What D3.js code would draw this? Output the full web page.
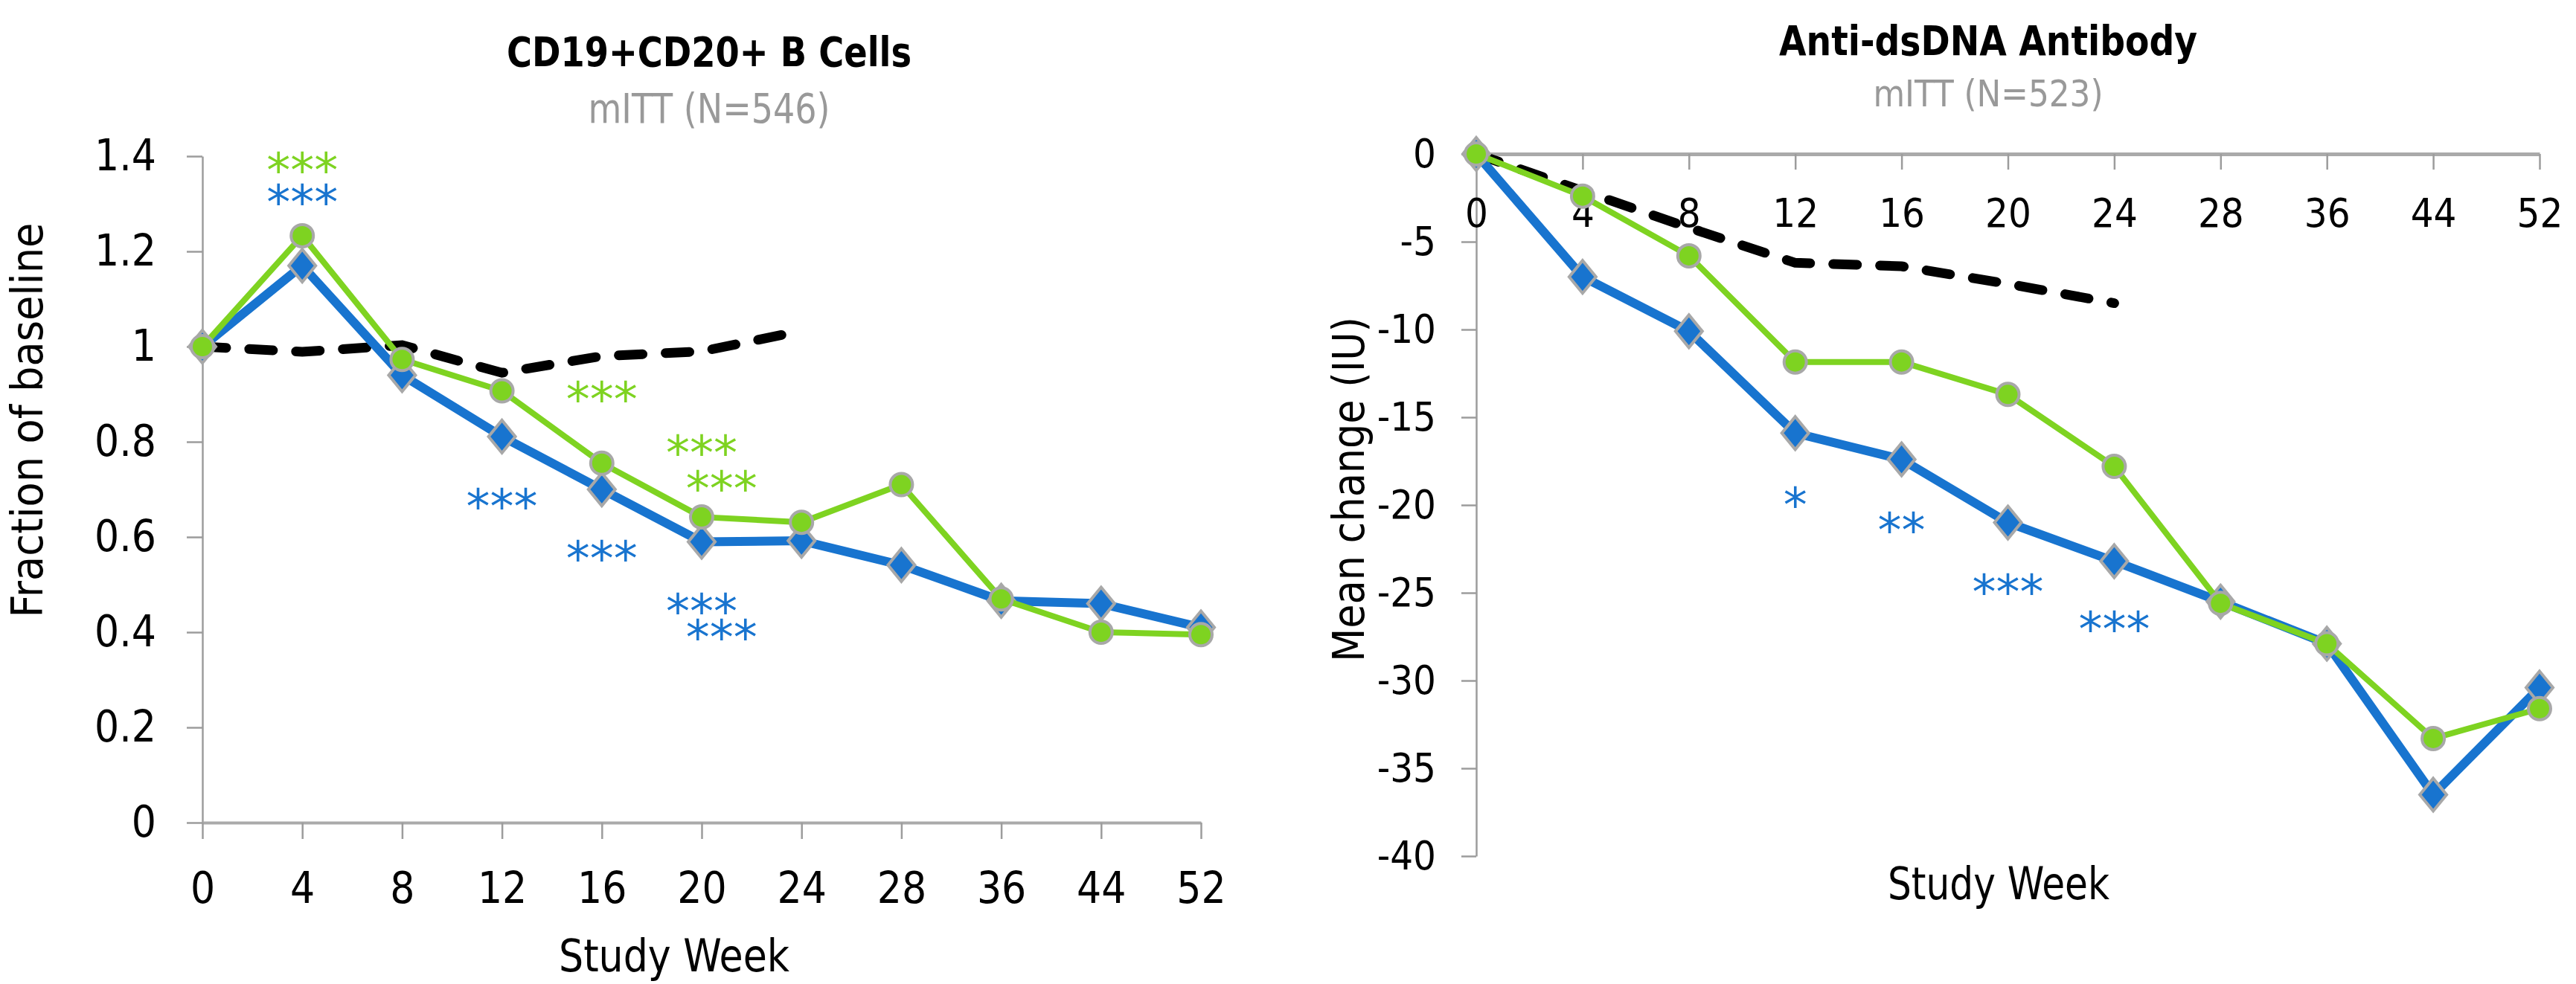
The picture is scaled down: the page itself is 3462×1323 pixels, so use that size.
<!DOCTYPE html>
<html>
<head>
<meta charset="utf-8">
<script src="https://cdn.jsdelivr.net/npm/d3@7.9.0/dist/d3.min.js"></script>
<style>
  body { margin: 0; background: #fff; }
  svg { display: block; }
  .narrow { font-family: "Liberation Sans Narrow", "DejaVu Sans Condensed", "Liberation Sans", sans-serif; }
  .wide { font-family: "DejaVu Sans", Verdana, sans-serif; }
</style>
</head>
<body>
<svg id="chart" width="3462" height="1323"></svg>
<script>
// study weeks shared by both panels
const weeks = ['0', '4', '8', '12', '16', '20', '24', '28', '36', '44', '52'];

// CD19+CD20+ B cells, fraction of baseline
const cellsBlue = [1.0, 1.17, 0.94, 0.811, 0.70, 0.59, 0.592, 0.541, 0.466, 0.46, 0.41];
const cellsGreen = [1.0, 1.233, 0.973, 0.907, 0.755, 0.642, 0.631, 0.71, 0.47, 0.40, 0.395];
const cellsPlacebo = [1.0, 0.989, 1.003, 0.945, 0.98, 0.99, 1.033];
const cellsTicks = [0, 0.2, 0.4, 0.6, 0.8, 1, 1.2, 1.4];

// Anti-dsDNA antibody, mean change (IU)
const dnaBlue = [0, -7.0, -10.1, -15.9, -17.4, -21.0, -23.2, -25.5, -27.9, -36.5, -30.4];
const dnaGreen = [0, -2.4, -5.8, -11.85, -11.85, -13.7, -17.8, -25.6, -27.9, -33.3, -31.6];
const dnaPlacebo = [0, -2.1, -4.2, -6.2, -6.4, -7.4, -8.5];
const dnaTicks = [0, -5, -10, -15, -20, -25, -30, -35, -40];

// significance marks: week, shift (in steps), value, label, series
const cellsStars = [
  { week: '4', shift: 0, value: 1.392, label: '***', series: 'green' },
  { week: '4', shift: 0, value: 1.325, label: '***', series: 'blue' },
  { week: '16', shift: 0, value: 0.911, label: '***', series: 'green' },
  { week: '20', shift: 0, value: 0.798, label: '***', series: 'green' },
  { week: '20', shift: 0.2, value: 0.723, label: '***', series: 'green' },
  { week: '12', shift: 0, value: 0.686, label: '***', series: 'blue' },
  { week: '16', shift: 0, value: 0.577, label: '***', series: 'blue' },
  { week: '20', shift: 0, value: 0.466, label: '***', series: 'blue' },
  { week: '20', shift: 0.2, value: 0.411, label: '***', series: 'blue' },
];
const dnaStars = [
  { week: '12', shift: 0, value: -19.4, label: '*', series: 'blue' },
  { week: '16', shift: 0, value: -20.85, label: '**', series: 'blue' },
  { week: '20', shift: 0, value: -24.36, label: '***', series: 'blue' },
  { week: '24', shift: 0, value: -26.5, label: '***', series: 'blue' },
];

const colors = { blue: '#1874cf', green: '#7ed321', placebo: '#000', marker: '#a8a8a8', axis: '#9c9c9c' };

const svg = d3.select('#chart');

function diamond(w, h) {
  const p = d3.path();
  p.moveTo(0, -h / 2);
  p.lineTo(w / 2, 0);
  p.lineTo(0, h / 2);
  p.lineTo(-w / 2, 0);
  p.closePath();
  return p.toString();
}

function drawPanel(cfg) {
  const g = svg.append('g');
  const x = d3.scalePoint().domain(weeks).range(cfg.xRange);
  const y = d3.scaleLinear().domain(cfg.yDomain).range(cfg.yRange);

  // y axis
  const yAxis = g.append('g')
    .attr('transform', `translate(${cfg.xRange[0]},0)`)
    .call(d3.axisLeft(y).tickValues(cfg.yTicks).tickSize(cfg.yTickSize).tickSizeOuter(0)
      .tickPadding(cfg.yPad).tickFormat(d => String(+d.toFixed(1))));
  yAxis.select('.domain').attr('stroke', colors.axis).attr('stroke-width', 2.5);
  yAxis.selectAll('.tick line').attr('stroke', colors.axis).attr('stroke-width', 2.5);
  yAxis.selectAll('.tick text').attr('class', 'narrow').attr('font-size', cfg.tickFont).attr('fill', '#000');

  // x axis
  const xAxis = g.append('g')
    .attr('transform', `translate(0,${cfg.xAxisY})`)
    .call(d3.axisBottom(x).tickSize(cfg.xTickSize).tickSizeOuter(0).tickPadding(cfg.xPad));
  xAxis.select('.domain').attr('stroke', '#aaa').attr('stroke-width', cfg.xAxisWidth);
  xAxis.selectAll('.tick line').attr('stroke', colors.axis).attr('stroke-width', 2.5);
  xAxis.selectAll('.tick text').attr('class', 'narrow').attr('font-size', cfg.tickFont).attr('fill', '#000');

  const line = d3.line().x((d, i) => x(weeks[i])).y(d => y(d));

  // placebo dashed line
  g.append('path')
    .datum(cfg.placebo)
    .attr('d', line)
    .attr('fill', 'none')
    .attr('stroke', colors.placebo)
    .attr('stroke-width', 13)
    .attr('stroke-linecap', 'round')
    .attr('stroke-dasharray', '32 31');

  // blue series
  g.append('path')
    .datum(cfg.blue)
    .attr('d', line)
    .attr('fill', 'none')
    .attr('stroke', colors.blue)
    .attr('stroke-width', 12)
    .attr('stroke-linejoin', 'round');
  g.append('g').selectAll('path')
    .data(cfg.blue)
    .join('path')
    .attr('transform', (d, i) => `translate(${x(weeks[i])},${y(d)})`)
    .attr('d', diamond(36, 44))
    .attr('fill', colors.blue)
    .attr('stroke', colors.marker)
    .attr('stroke-width', 4);

  // green series
  g.append('path')
    .datum(cfg.green)
    .attr('d', line)
    .attr('fill', 'none')
    .attr('stroke', colors.green)
    .attr('stroke-width', 8)
    .attr('stroke-linejoin', 'round');
  g.append('g').selectAll('circle')
    .data(cfg.green)
    .join('circle')
    .attr('cx', (d, i) => x(weeks[i]))
    .attr('cy', d => y(d))
    .attr('r', 15)
    .attr('fill', colors.green)
    .attr('stroke', colors.marker)
    .attr('stroke-width', 4);

  // significance stars
  g.append('g').selectAll('text')
    .data(cfg.stars)
    .join('text')
    .attr('class', 'wide')
    .attr('x', d => x(d.week) + d.shift * x.step())
    .attr('y', d => y(d.value))
    .attr('dy', '0.56em')
    .attr('text-anchor', 'middle')
    .attr('font-size', 64)
    .attr('fill', d => colors[d.series])
    .text(d => d.label);

  // titles
  g.append('text')
    .attr('class', 'narrow')
    .attr('x', cfg.titleX).attr('y', cfg.titleY)
    .attr('text-anchor', 'middle')
    .attr('font-size', 56).attr('font-weight', 'bold')
    .attr('textLength', cfg.titleLen).attr('lengthAdjust', 'spacingAndGlyphs')
    .text(cfg.title);
  g.append('text')
    .attr('class', 'narrow')
    .attr('x', cfg.titleX).attr('y', cfg.subY)
    .attr('text-anchor', 'middle')
    .attr('font-size', cfg.subFont).attr('fill', '#999')
    .attr('textLength', cfg.subLen).attr('lengthAdjust', 'spacingAndGlyphs')
    .text(cfg.subtitle);

  g.append('text')
    .attr('class', 'narrow')
    .attr('x', cfg.xTitleX).attr('y', cfg.xTitleY)
    .attr('text-anchor', 'middle')
    .attr('font-size', 60)
    .attr('textLength', cfg.xTitleLen).attr('lengthAdjust', 'spacingAndGlyphs')
    .text('Study Week');

  g.append('text')
    .attr('class', 'wide')
    .attr('transform', `translate(${cfg.yTitleX},${cfg.yTitleY}) rotate(-90)`)
    .attr('text-anchor', 'middle')
    .attr('font-size', 58)
    .attr('textLength', cfg.yTitleLen).attr('lengthAdjust', 'spacingAndGlyphs')
    .text(cfg.yTitle);
}

drawPanel({
  xRange: [272, 1614], yDomain: [0, 1.4], yRange: [1106, 210], yTicks: cellsTicks,
  yTickSize: 21, yPad: 41, xAxisY: 1106, xTickSize: 22, xPad: 45, xAxisWidth: 4, tickFont: 58,
  blue: cellsBlue, green: cellsGreen, placebo: cellsPlacebo, stars: cellsStars,
  title: 'CD19+CD20+ B Cells', titleX: 953, titleY: 89, titleLen: 544,
  subtitle: 'mITT (N=546)', subY: 165, subFont: 55, subLen: 325,
  xTitleX: 906, xTitleY: 1306, xTitleLen: 310,
  yTitle: 'Fraction of baseline', yTitleX: 57, yTitleY: 565, yTitleLen: 531,
});

drawPanel({
  xRange: [1984, 3413], yDomain: [-40, 0], yRange: [1151, 207], yTicks: dnaTicks,
  yTickSize: 20, yPad: 34, xAxisY: 207, xTickSize: 21, xPad: 39, xAxisWidth: 5, tickFont: 54,
  blue: dnaBlue, green: dnaGreen, placebo: dnaPlacebo, stars: dnaStars,
  title: 'Anti-dsDNA Antibody', titleX: 2672, titleY: 74, titleLen: 562,
  subtitle: 'mITT (N=523)', subY: 143, subFont: 50, subLen: 309,
  xTitleX: 2686, xTitleY: 1209, xTitleLen: 298,
  yTitle: 'Mean change  (IU)', yTitleX: 1833, yTitleY: 658, yTitleLen: 464,
});
</script>
</body>
</html>
